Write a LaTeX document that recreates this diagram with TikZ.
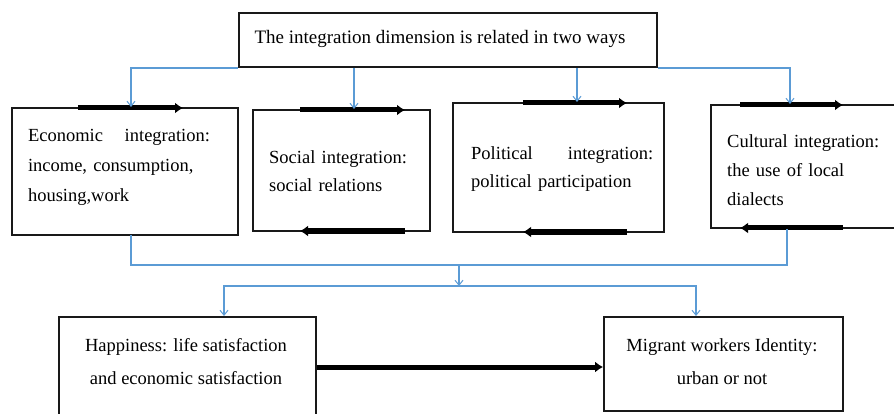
\documentclass[tikz,border=0pt]{standalone}
\usepackage{fontspec}
\setmainfont{Liberation Serif}
\usetikzlibrary{arrows.meta,calc}
\definecolor{lnblue}{RGB}{91,155,213}
\tikzset{
  box/.style={draw=black!90, line width=1.8pt, rectangle, inner sep=0pt},
  txt/.style={inner sep=0pt, font=\fontsize{18.5}{30}\selectfont},
  bl/.style={draw=lnblue, line width=1.3pt},
  blarrow/.style={bl, -{Straight Barb[length=5pt,width=8pt,line width=1pt]}},
  thick arrow/.style={draw=black, line width=5pt, -{Latex[length=8pt,width=11pt]}}
}
\begin{document}
\begin{tikzpicture}[x=1pt,y=-1pt]
\useasboundingbox (0,0) rectangle (894,414);
\fill[white] (0,0) rectangle (894,414);

% boxes
\node[box, minimum width=418pt, minimum height=54pt] (top) at (448,40) {};
\node[box, minimum width=226pt, minimum height=127pt] (econ) at (125,171.5) {};
\node[box, minimum width=177pt, minimum height=121pt] (social) at (341.5,170.5) {};
\node[box, minimum width=211pt, minimum height=129pt] (polit) at (558.5,167.5) {};
\node[box, minimum width=189pt, minimum height=123pt] (cult) at (805.5,166.5) {};
\node[box, minimum width=257pt, minimum height=110pt] (hap) at (187.5,372) {};
\node[box, minimum width=239pt, minimum height=94pt] (mig) at (723.5,364) {};

% texts
\node[txt, font=\fontsize{19}{30}\selectfont] (ttop) at (440,39) {The integration dimension is related in two ways};
\node[txt, text width=182pt, align=left] (tecon) at (119,167)
  {\hbox to 182pt{Economic\hfill integration:}\\ income, consumption,\\ housing,work};
\node[txt, text width=160pt, align=left, anchor=west, font=\fontsize{18.5}{28}\selectfont] (tsocial) at (269,171)
  {Social integration:\\ social relations};
\node[txt, text width=182pt, align=left, anchor=west, font=\fontsize{18.5}{28}\selectfont] (tpolit) at (471,169)
  {\hbox to 182pt{Political\hfill integration:}\\ political participation};
\node[txt, text width=170pt, align=left, anchor=west, font=\fontsize{18.5}{29}\selectfont] (tcult) at (727,170)
  {Cultural integration:\\ the use of local\\ dialects};
\node[txt, align=center, font=\fontsize{18.5}{33}\selectfont] (thap) at (186,362)
  {Happiness: life satisfaction\\ and economic satisfaction};
\node[txt, align=center, font=\fontsize{18.5}{33}\selectfont] (tmig) at (722,362)
  {Migrant workers Identity:\\ urban or not};

% coordinates for connectors
\coordinate (eA1) at (78,108);  \coordinate (eA2) at (183,108);
\coordinate (sA1) at (300,110); \coordinate (sA2) at (405,110);
\coordinate (sB1) at (405,231); \coordinate (sB2) at (300,231);
\coordinate (pA1) at (523,103); \coordinate (pA2) at (627,103);
\coordinate (pB1) at (627,232); \coordinate (pB2) at (523,232);
\coordinate (cA1) at (740,105); \coordinate (cA2) at (843,105);
\coordinate (cB1) at (843,228); \coordinate (cB2) at (740,228);
\coordinate (mid) at (0,367);

% thick black arrows
\draw[thick arrow] (eA1) -- (eA2);
\draw[thick arrow] (sA1) -- (sA2);
\draw[thick arrow] (sB1) -- (sB2);
\draw[thick arrow] (pA1) -- (pA2);
\draw[thick arrow] (pB1) -- (pB2);
\draw[thick arrow] (cA1) -- (cA2);
\draw[thick arrow] (cB1) -- (cB2);
\draw[thick arrow] (hap.east |- mid) -- (mig.west |- mid);

% blue connectors
\coordinate (eT) at (131,107);
\coordinate (sT) at (354,109);
\coordinate (pT) at (577,102);
\coordinate (cT) at (790,104);
\coordinate (eB) at (131,235);
\coordinate (cB) at (787,229);
\coordinate (junc) at (459,265);
\coordinate (split) at (459,286);
\coordinate (hT) at (224,316);
\coordinate (mT) at (696,316);

\draw[blarrow] (top.south west) -| (eT);
\draw[blarrow] (top.south -| sT) -- (sT);
\draw[blarrow] (top.south -| pT) -- (pT);
\draw[blarrow] (top.south east) -| (cT);
\draw[bl] (eB) |- (junc) -| (cB);
\draw[blarrow] (junc) -- (split);
\draw[blarrow] (split) -| (hT);
\draw[blarrow] (split) -| (mT);
\end{tikzpicture}
\end{document}
